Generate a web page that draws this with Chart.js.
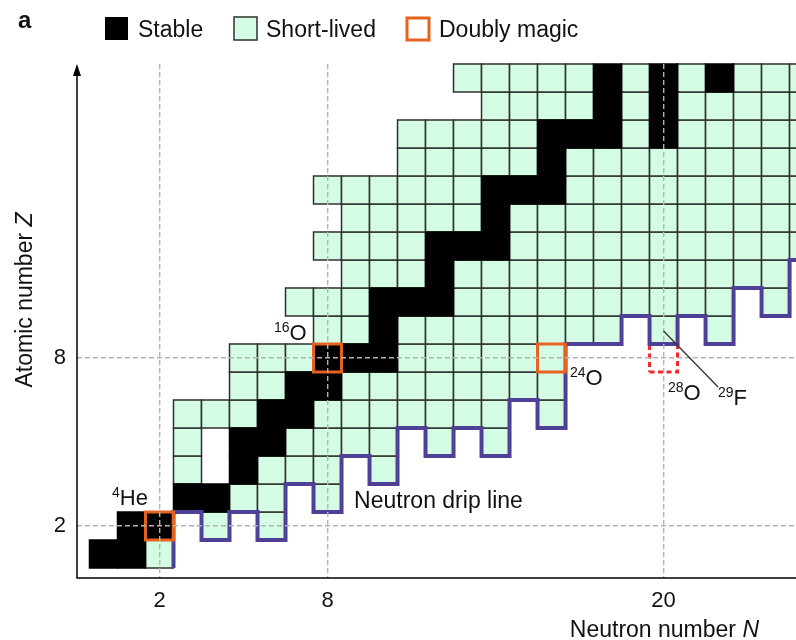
<!DOCTYPE html>
<html>
<head>
<meta charset="utf-8">
<script src="https://cdn.jsdelivr.net/npm/chart.js@4"></script>
<style>
  html, body { margin: 0; padding: 0; background: #fff; }
  canvas { display: block; }
</style>
</head>
<body>
<canvas id="chart" width="796" height="640"></canvas>
<script>
// rows of the chart, one per element (Z)
const protonNumbers = [1, 2, 3, 4, 5, 6, 7, 8, 9, 10, 11, 12, 13, 14, 15, 16, 17, 18];

// neutron numbers of the stable nuclides in each row
const stableN = [
  [0, 1], [1, 2], [3, 4], [5], [5, 6], [6, 7], [7, 8], [8, 9, 10], [10],
  [10, 11, 12], [12], [12, 13, 14], [14], [14, 15, 16], [16], [16, 17, 18, 20],
  [18, 20], [18, 20, 22]
];

// neutron numbers of the short-lived (bound) nuclides in each row
const shortLivedN = [
  [2],
  [4, 6],
  [5, 6, 8],
  [3, 6, 7, 8, 10],
  [3, 7, 8, 9, 10, 12, 14],
  [3, 4, 5, 8, 9, 10, 11, 12, 13, 14, 16],
  [5, 6, 9, 10, 11, 12, 13, 14, 15, 16],
  [5, 6, 7, 11, 12, 13, 14, 15, 16],
  [8, 9, 11, 12, 13, 14, 15, 16, 17, 18, 20, 22],
  [7, 8, 9, 13, 14, 15, 16, 17, 18, 19, 20, 21, 22, 24],
  [9, 10, 11, 13, 14, 15, 16, 17, 18, 19, 20, 21, 22, 23, 24],
  [8, 9, 10, 11, 15, 16, 17, 18, 19, 20, 21, 22, 23, 24, 25],
  [9, 10, 11, 12, 13, 15, 16, 17, 18, 19, 20, 21, 22, 23, 24, 25],
  [8, 9, 10, 11, 12, 13, 17, 18, 19, 20, 21, 22, 23, 24, 25],
  [11, 12, 13, 14, 15, 17, 18, 19, 20, 21, 22, 23, 24, 25],
  [11, 12, 13, 14, 15, 19, 21, 22, 23, 24, 25],
  [14, 15, 16, 17, 19, 21, 22, 23, 24, 25],
  [13, 14, 15, 16, 17, 19, 21, 23, 24, 25]
];

// doubly magic nuclei: 4He, 16O, 24O
const magicN = [2, 8, 16];
const magicZ = [2, 8, 8];

// 28O, unbound (dashed box)
const unboundN = [20];
const unboundZ = [8];

// neutron drip line: lightest bound element for each neutron number
const dripN = [3, 4, 5, 6, 7, 8, 9, 10, 11, 12, 13, 14, 15, 16, 17, 18, 19, 20, 21, 22, 23, 24, 25];
const dripMinZ = [3, 2, 3, 2, 4, 3, 5, 4, 6, 5, 6, 5, 7, 6, 9, 9, 10, 9, 10, 9, 11, 10, 12];

// tick labels
const xTicks = [2, 8, 20];
const yTicks = [2, 8];

// labelled nuclides
const labelMass = ['4', '16', '24', '28', '29'];
const labelSymbol = ['He', 'O', 'O', 'O', 'F'];
const labelN = [2, 8, 16, 20, 20];
const labelZ = [2, 8, 8, 8, 9];

const FONT = '"Liberation Sans", Arial, Helvetica, sans-serif';
const MINT = '#d4fbe3';
const EDGE = '#2f2f2f';
const ORANGE = '#e5631f';
const PURPLE = '#4e3f97';

const cells = lists => lists.flatMap((ns, i) => ns.map(n => ({ x: n, y: protonNumbers[i] })));

const dripPoints = [{ x: dripN[0] - 0.5, y: 0.5 }];
dripN.forEach((n, i) => {
  dripPoints.push({ x: n - 0.5, y: dripMinZ[i] - 0.5 }, { x: n + 0.5, y: dripMinZ[i] - 0.5 });
});

const outline = (n, z) => [
  { x: n - 0.5, y: z - 0.5 }, { x: n + 0.5, y: z - 0.5 },
  { x: n + 0.5, y: z + 0.5 }, { x: n - 0.5, y: z + 0.5 }, { x: n - 0.5, y: z - 0.5 }
];

// rect point style: side = radius * sqrt(2), so one unit cell wide
function cellRadius(ctx) {
  const xs = ctx.chart.scales.x;
  return Math.abs(xs.getPixelForValue(1) - xs.getPixelForValue(0)) / Math.SQRT2;
}

function isotope(ctx, x, y, mass, sym) {
  ctx.font = '14px ' + FONT;
  ctx.textAlign = 'left';
  ctx.textBaseline = 'alphabetic';
  ctx.fillText(mass, x, y - 8);
  const w = ctx.measureText(mass).width;
  ctx.font = '22px ' + FONT;
  ctx.fillText(sym, x + w, y);
}

// offsets (px) of each label from the centre of its cell: [dx, baseline dy]
const labelOffsets = [[-47.5, -20.7], [-53.5, -17.7], [18.5, 27.3], [4.5, 42.3], [54.5, 75.3]];

const decorations = {
  id: 'decorations',
  afterDraw(chart) {
    const { ctx, chartArea: a, scales: { x: xs, y: ys } } = chart;
    ctx.save();

    // axes, y with an arrow head
    ctx.strokeStyle = '#000';
    ctx.fillStyle = '#000';
    ctx.lineWidth = 1.5;
    ctx.beginPath();
    ctx.moveTo(a.left, a.top + 8);
    ctx.lineTo(a.left, a.bottom);
    ctx.lineTo(a.right, a.bottom);
    ctx.stroke();
    ctx.beginPath();
    ctx.moveTo(a.left, a.top);
    ctx.lineTo(a.left - 4, a.top + 12);
    ctx.lineTo(a.left + 4, a.top + 12);
    ctx.closePath();
    ctx.fill();

    // axis titles
    ctx.fillStyle = '#111';
    ctx.textBaseline = 'alphabetic';
    ctx.font = '23px ' + FONT;
    const t1 = 'Neutron number ';
    const w1 = ctx.measureText(t1).width;
    ctx.font = 'italic 23px ' + FONT;
    const wN = ctx.measureText('N').width;
    const xEnd = 759;
    ctx.font = '23px ' + FONT;
    ctx.textAlign = 'left';
    ctx.fillText(t1, xEnd - wN - w1, 637);
    ctx.font = 'italic 23px ' + FONT;
    ctx.fillText('N', xEnd - wN, 637);

    ctx.save();
    ctx.translate(32, 300);
    ctx.rotate(-Math.PI / 2);
    ctx.font = '23px ' + FONT;
    const t2 = 'Atomic number ';
    const w2 = ctx.measureText(t2).width;
    ctx.font = 'italic 23px ' + FONT;
    const wZ = ctx.measureText('Z').width;
    const start = -(w2 + wZ) / 2;
    ctx.font = '23px ' + FONT;
    ctx.fillText(t2, start, 0);
    ctx.font = 'italic 23px ' + FONT;
    ctx.fillText('Z', start + w2, 0);
    ctx.restore();

    // nuclide labels
    ctx.fillStyle = '#111';
    labelMass.forEach((m, i) => {
      const cx = xs.getPixelForValue(labelN[i]);
      const cy = ys.getPixelForValue(labelZ[i]);
      isotope(ctx, cx + labelOffsets[i][0], cy + labelOffsets[i][1], m, labelSymbol[i]);
    });

    // leader to 29F
    const fx = xs.getPixelForValue(labelN[4]);
    const fy = ys.getPixelForValue(labelZ[4]);
    ctx.strokeStyle = '#333';
    ctx.lineWidth = 1.3;
    ctx.beginPath();
    ctx.moveTo(fx, fy + 1);
    ctx.lineTo(fx + 54.5, fy + 57);
    ctx.stroke();

    // drip line caption
    ctx.font = '23px ' + FONT;
    ctx.textAlign = 'left';
    ctx.fillText('Neutron drip line', xs.getPixelForValue(8.95), ys.getPixelForValue(2.64));

    // panel letter and legend
    ctx.font = 'bold 24px ' + FONT;
    ctx.fillText('a', 18, 28);
    ctx.font = '23px ' + FONT;
    ctx.fillStyle = '#000';
    ctx.fillRect(105, 17, 23, 23);
    ctx.fillStyle = '#111';
    ctx.fillText('Stable', 138, 37);
    ctx.fillStyle = MINT;
    ctx.fillRect(234, 17, 23, 23);
    ctx.strokeStyle = EDGE;
    ctx.lineWidth = 1.5;
    ctx.strokeRect(234, 17, 23, 23);
    ctx.fillStyle = '#111';
    ctx.fillText('Short-lived', 266, 37);
    ctx.strokeStyle = ORANGE;
    ctx.lineWidth = 3;
    ctx.strokeRect(407, 18, 22, 22);
    ctx.fillText('Doubly magic', 439, 37);

    ctx.restore();
  }
};

new Chart(document.getElementById('chart'), {
  type: 'scatter',
  data: {
    datasets: [
      {
        label: 'Short-lived',
        data: cells(shortLivedN),
        order: 6,
        pointStyle: 'rect',
        pointRadius: cellRadius,
        pointHoverRadius: cellRadius,
        pointBackgroundColor: MINT,
        pointBorderColor: EDGE,
        pointBorderWidth: 1.5,
        clip: false
      },
      {
        label: 'Stable',
        data: cells(stableN),
        order: 5,
        pointStyle: 'rect',
        pointRadius: cellRadius,
        pointHoverRadius: cellRadius,
        pointBackgroundColor: '#000',
        pointBorderColor: '#000',
        pointBorderWidth: 1.5,
        clip: false
      },
      {
        label: '28O',
        data: outline(unboundN[0], unboundZ[0]),
        order: 4,
        showLine: true,
        borderColor: '#f0262f',
        borderWidth: 3,
        borderDash: [5, 3.5],
        pointRadius: 0,
        clip: false
      },
      {
        label: 'Neutron drip line',
        data: dripPoints,
        order: 3,
        showLine: true,
        borderColor: PURPLE,
        borderWidth: 4,
        borderJoinStyle: 'miter',
        pointRadius: 0,
        clip: false
      },
      {
        label: 'Doubly magic',
        data: magicN.map((n, i) => ({ x: n, y: magicZ[i] })),
        order: 2,
        pointStyle: 'rect',
        pointRadius: cellRadius,
        pointHoverRadius: cellRadius,
        pointBackgroundColor: 'rgba(0,0,0,0)',
        pointBorderColor: ORANGE,
        pointBorderWidth: 3,
        clip: false
      }
    ]
  },
  options: {
    responsive: false,
    animation: false,
    events: [],
    layout: { padding: { top: 64, left: 0, right: 0, bottom: 0 } },
    plugins: { legend: { display: false }, tooltip: { enabled: false } },
    scales: {
      x: {
        type: 'linear',
        min: -0.946,
        max: 24.73,
        afterBuildTicks: axis => { axis.ticks = xTicks.map(v => ({ value: v })); },
        afterFit: axis => { axis.height = 62; },
        grid: { z: 1, color: '#b3b3b3', lineWidth: 1.4, drawTicks: false },
        border: { display: false, dash: [5, 3] },
        ticks: { padding: 10, color: '#111', font: { size: 22, family: FONT } }
      },
      y: {
        type: 'linear',
        min: 0.143,
        max: 18.5,
        afterBuildTicks: axis => { axis.ticks = yTicks.map(v => ({ value: v })); },
        afterFit: axis => { axis.width = 77; },
        grid: { z: 1, color: '#b3b3b3', lineWidth: 1.4, drawTicks: false },
        border: { display: false, dash: [5, 3] },
        ticks: { padding: 11, color: '#111', font: { size: 22, family: FONT } }
      }
    }
  },
  plugins: [decorations]
});
</script>
</body>
</html>
